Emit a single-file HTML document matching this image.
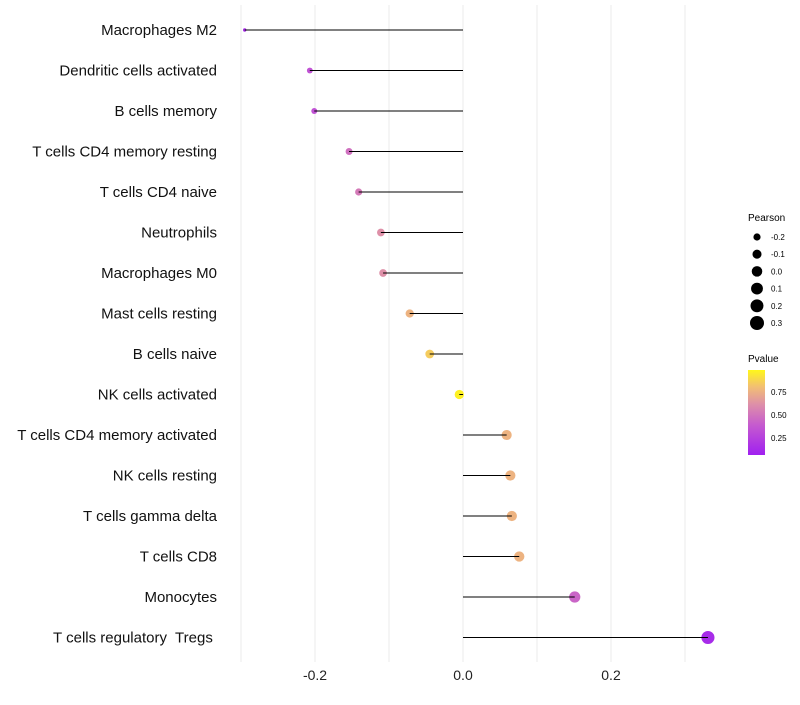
<!DOCTYPE html>
<html><head><meta charset="utf-8"><style>
body{margin:0;background:#fff;font-family:"Liberation Sans",sans-serif}
text{white-space:pre}
</style></head><body>
<svg id="chart" width="800" height="700" xmlns="http://www.w3.org/2000/svg">
<defs><linearGradient id="pg" x1="0" y1="1" x2="0" y2="0">
<stop offset="0" stop-color="#A020F0"/><stop offset="0.35" stop-color="#C55ACF"/><stop offset="0.6" stop-color="#DE90A8"/><stop offset="0.8" stop-color="#F2BE74"/><stop offset="1" stop-color="#FFF71A"/></linearGradient></defs>
<g id="grid"></g><g id="marks"></g><g id="labels"></g>
<g id="legP">
<text x="748" y="221" font-size="10">Pearson</text>
</g>
<g>
<text x="748" y="362" font-size="10">Pvalue</text>
<rect x="748" y="370" width="17" height="85" fill="url(#pg)"/>
<text x="771" y="395" font-size="8">0.75</text>
<text x="771" y="418" font-size="8">0.50</text>
<text x="771" y="441" font-size="8">0.25</text>
</g>
</svg>
<script>
const categories=["Macrophages M2","Dendritic cells activated","B cells memory","T cells CD4 memory resting","T cells CD4 naive","Neutrophils","Macrophages M0","Mast cells resting","B cells naive","NK cells activated","T cells CD4 memory activated","NK cells resting","T cells gamma delta","T cells CD8","Monocytes","T cells regulatory  Tregs "];
const pearson=[-0.295,-0.207,-0.201,-0.154,-0.141,-0.111,-0.108,-0.072,-0.045,-0.005,0.059,0.064,0.066,0.076,0.151,0.331];
const pvalue=[0.07,0.3,0.3,0.45,0.5,0.6,0.6,0.75,0.85,0.98,0.75,0.75,0.75,0.75,0.4,0.07];
const xTicks=[-0.2,0,0.2];
const xTickLabels=["-0.2","0.0","0.2"];
const gridVals=[-0.3,-0.2,-0.1,0,0.1,0.2,0.3];
const legendVals=[-0.2,-0.1,0.0,0.1,0.2,0.3];
const NS="http://www.w3.org/2000/svg";
const x=v=>463+v*740;
const y=i=>30+i*40.5;
const r=v=>Math.sqrt(Math.max(2.9,2.9+64*(v+0.295)));
const stops=[[0,[160,32,240]],[0.35,[197,90,207]],[0.6,[222,144,168]],[0.8,[242,190,116]],[1,[255,247,26]]];
function col(p){for(let k=1;k<stops.length;k++){if(p<=stops[k][0]){const a=stops[k-1],b=stops[k],t=(p-a[0])/(b[0]-a[0]);return "rgb("+a[1].map((c,j)=>Math.round(c+(b[1][j]-c)*t)).join(",")+")";}}return "rgb(255,247,26)";}
function mk(t,a,parent){const e=document.createElementNS(NS,t);for(const k in a)e.setAttribute(k,a[k]);parent.appendChild(e);return e;}
const grid=document.getElementById('grid'),marks=document.getElementById('marks'),labels=document.getElementById('labels');
gridVals.forEach(v=>{const l=mk('line',{x1:x(v),x2:x(v),y1:5,y2:662,stroke:'#ebebeb','stroke-width':1},grid);

});
xTicks.forEach((v,i)=>{const t=mk('text',{x:x(v),y:680,'font-size':14,'text-anchor':'middle',fill:'#222'},labels);t.textContent=xTickLabels[i];

});
categories.forEach((c,i)=>{
const t=mk('text',{x:217,y:y(i)+5,'font-size':15,'text-anchor':'end',fill:'#111'},labels);t.textContent=c;


const p=mk('circle',{cx:x(pearson[i]),cy:y(i),r:r(pearson[i]),fill:col(pvalue[i])},marks);


const s=mk('line',{x1:x(0),x2:x(pearson[i]),y1:y(i),y2:y(i),stroke:'#000','stroke-width':1},marks);


});
const legP=document.getElementById('legP');
legendVals.forEach((v,i)=>{const cy=237+i*17.2;
const c=mk('circle',{cx:757,cy:cy,r:r(v)+0.6,fill:'#000'},legP);


const t=mk('text',{x:771,y:cy+3,'font-size':8},legP);t.textContent=v.toFixed(1);

});
</script>
</body></html>
